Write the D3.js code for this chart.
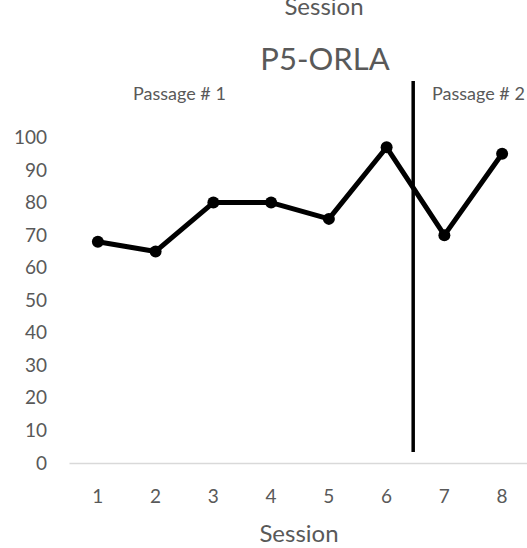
<!DOCTYPE html>
<html><head><meta charset="utf-8">
<script src="https://cdn.jsdelivr.net/npm/d3@7"></script>
<style>
html,body{margin:0;padding:0;background:#fff;}
svg{display:block;font-family:Lato, "Open Sans", sans-serif;}
</style></head>
<body>
<svg id="chart" width="527" height="548"></svg>
<script>
const sessions = [1, 2, 3, 4, 5, 6, 7, 8];
const scores = [68, 65, 80, 80, 75, 97, 70, 95];
const yTicks = [0, 10, 20, 30, 40, 50, 60, 70, 80, 90, 100];
const title = "P5-ORLA";
const axisTitle = "Session";
const phaseLabels = ["Passage # 1", "Passage # 2"];
const phaseChangeAfter = 6; // divider between sessions 6 and 7

const svg = d3.select("#chart");
const textColor = "#595959";

const x = d3.scaleBand().domain(sessions).range([69, 531]);
const y = d3.scaleLinear().domain([0, 100]).range([463, 137.5]);
const cx = d => x(d) + x.bandwidth() / 2;

// Y axis (labels only)
const gy = svg.append("g").attr("transform", "translate(69,0)")
  .call(d3.axisLeft(y).tickValues(yTicks).tickSize(0).tickPadding(22));
gy.select(".domain").remove();
gy.selectAll("text").attr("fill", textColor).style("font-size", "19px").style("font-family", "Lato, 'Open Sans', sans-serif");

// X axis
const gx = svg.append("g").attr("transform", "translate(0,463)")
  .call(d3.axisBottom(x).tickSize(0));
gx.select(".domain").attr("stroke", "#d9d9d9").attr("stroke-width", 1.5);
gx.selectAll("text").attr("fill", textColor).attr("y", 40).attr("dy", 0)
  .style("font-size", "19px").style("font-family", "Lato, 'Open Sans', sans-serif");

// Titles
svg.append("text").attr("x", 299).attr("y", 542).attr("text-anchor", "middle")
  .attr("fill", textColor).style("font-size", "24px").text(axisTitle);
svg.append("text").attr("x", 324).attr("y", 15).attr("text-anchor", "middle")
  .attr("fill", textColor).style("font-size", "24px").text(axisTitle);
svg.append("text").attr("x", 325).attr("y", 70).attr("text-anchor", "middle")
  .attr("fill", textColor).style("font-size", "31px").text(title);

// Phase labels
svg.append("text").attr("x", 133).attr("y", 100).attr("fill", textColor)
  .style("font-size", "18px").text(phaseLabels[0]);
svg.append("text").attr("x", 432).attr("y", 100).attr("fill", textColor)
  .style("font-size", "18px").text(phaseLabels[1]);

// Phase change line
const divX = cx(phaseChangeAfter) + (cx(phaseChangeAfter + 1) - cx(phaseChangeAfter)) * 0.46;
svg.append("line").attr("x1", divX).attr("x2", divX).attr("y1", 81).attr("y2", 452)
  .attr("stroke", "#000").attr("stroke-width", 3.5);

// Data line
const line = d3.line().x((d, i) => cx(sessions[i])).y(d => y(d));
svg.append("path").datum(scores).attr("d", line).attr("fill", "none")
  .attr("stroke", "#000").attr("stroke-width", 5).attr("stroke-linejoin", "round");
svg.selectAll("circle.pt").data(scores).join("circle").attr("class", "pt")
  .attr("cx", (d, i) => cx(sessions[i])).attr("cy", d => y(d)).attr("r", 6).attr("fill", "#000");
</script>
</body></html>
